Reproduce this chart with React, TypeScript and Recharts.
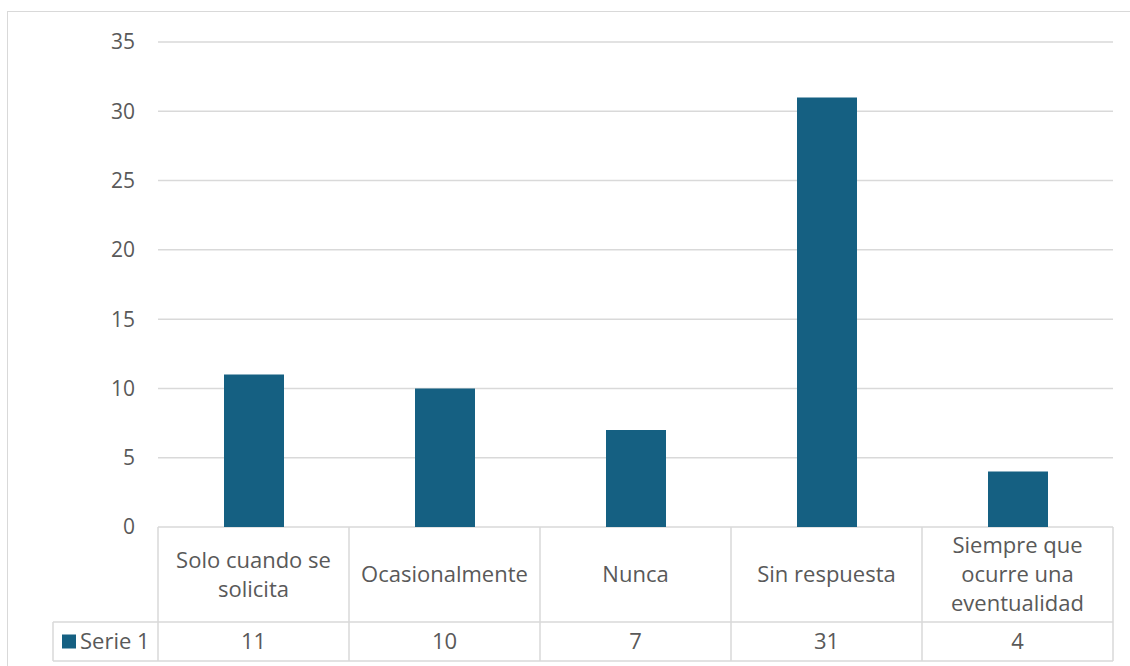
import { BarChart, Bar, XAxis, YAxis, CartesianGrid } from "recharts";

const CATEGORIES = [
  "Solo cuando se solicita",
  "Ocasionalmente",
  "Nunca",
  "Sin respuesta",
  "Siempre que ocurre una eventualidad",
];
const SERIE_1 = [11, 10, 7, 31, 4];
const Y_TICKS = [0, 5, 10, 15, 20, 25, 30, 35];
const SERIES_NAME = "Serie 1";

const data = CATEGORIES.map((name, i) => ({ name, value: SERIE_1[i] }));

const BLUE = "#156082";
const GRID = "#d9d9d9";
const TEXT = "#595959";
const FONT = "'Open Sans', sans-serif";
const FS = 22;

const W = 1130;
const H = 666;
const MARGIN = { top: 42, right: 17, bottom: 0, left: 98 };
const Y_W = 60;
const X_H = 139;
const PLOT_W = W - MARGIN.left - Y_W - MARGIN.right;

// crude word wrap, about what Excel does for these cells
function wrap(s: string, max = 14) {
  const out: string[] = [];
  let cur = "";
  s.split(" ").forEach(w => {
    if (!cur) cur = w;
    else if ((cur + " " + w).length <= max) cur += " " + w;
    else { out.push(cur); cur = w; }
  });
  if (cur) out.push(cur);
  return out;
}

function TableTick(props: any) {
  const { x, y, index, payload } = props;
  const colW = PLOT_W / CATEGORIES.length;
  const left = x - colW / 2;
  const right = x + colW / 2;
  const top = y;
  const mid = top + 95;
  const bottom = top + 134;
  const lines = wrap(String(payload.value));
  const lh = 29;
  const catC = (top + mid) / 2;
  const first = catC - ((lines.length - 1) * lh) / 2;
  const isLast = index === CATEGORIES.length - 1;

  return (
    <g>
      <line x1={left} y1={top} x2={left} y2={bottom} stroke={GRID} strokeWidth={1.5} />
      {isLast && <line x1={right} y1={top} x2={right} y2={bottom} stroke={GRID} strokeWidth={1.5} />}
      <line x1={left} y1={mid} x2={right} y2={mid} stroke={GRID} strokeWidth={1.5} />
      <line x1={left} y1={bottom} x2={right} y2={bottom} stroke={GRID} strokeWidth={1.5} />
      {lines.map((l, i) => (
        <text key={i} x={x} y={first + i * lh} dy="0.35em" textAnchor="middle" fill={TEXT} fontSize={FS} fontFamily={FONT}>
          {l}
        </text>
      ))}
      <text x={x} y={(mid + bottom) / 2} dy="0.35em" textAnchor="middle" fill={TEXT} fontSize={FS} fontFamily={FONT}>
        {SERIE_1[index]}
      </text>
      {index === 0 && (
        <g>
          <line x1={53} y1={mid} x2={left} y2={mid} stroke={GRID} strokeWidth={1.5} />
          <line x1={53} y1={bottom} x2={left} y2={bottom} stroke={GRID} strokeWidth={1.5} />
          <line x1={53} y1={mid} x2={53} y2={bottom} stroke={GRID} strokeWidth={1.5} />
          <rect x={62} y={(mid + bottom) / 2 - 7} width={14} height={14} fill={BLUE} />
          <text x={80} y={(mid + bottom) / 2} dy="0.35em" fill={TEXT} fontSize={FS} fontFamily={FONT}>
            {SERIES_NAME}
          </text>
        </g>
      )}
    </g>
  );
}

export default function App() {
  return (
    <div style={{ position: "absolute", left: 0, top: 0, width: W, height: H, overflow: "hidden", background: "#fff" }}>
      <div style={{ position: "absolute", left: 7, top: 11, width: 1200, height: 800, border: `1.5px solid ${GRID}` }} />
      <div style={{ position: "absolute", left: 0, top: 0 }}>
        <BarChart width={W} height={H} data={data} margin={MARGIN}>
          <CartesianGrid vertical={false} stroke={GRID} strokeWidth={1.5} />
          <YAxis
            width={Y_W}
            domain={[0, 35]}
            ticks={Y_TICKS}
            axisLine={false}
            tickLine={false}
            tickSize={0}
            tickMargin={23}
            tick={{ fill: TEXT, fontSize: 21, fontFamily: FONT }}
          />
          <XAxis
            dataKey="name"
            height={X_H}
            axisLine={false}
            tickLine={false}
            tickSize={0}
            tickMargin={0}
            interval={0}
            tick={<TableTick />}
          />
          <Bar dataKey="value" fill={BLUE} barSize={60} isAnimationActive={false} />
        </BarChart>
      </div>
    </div>
  );
}
